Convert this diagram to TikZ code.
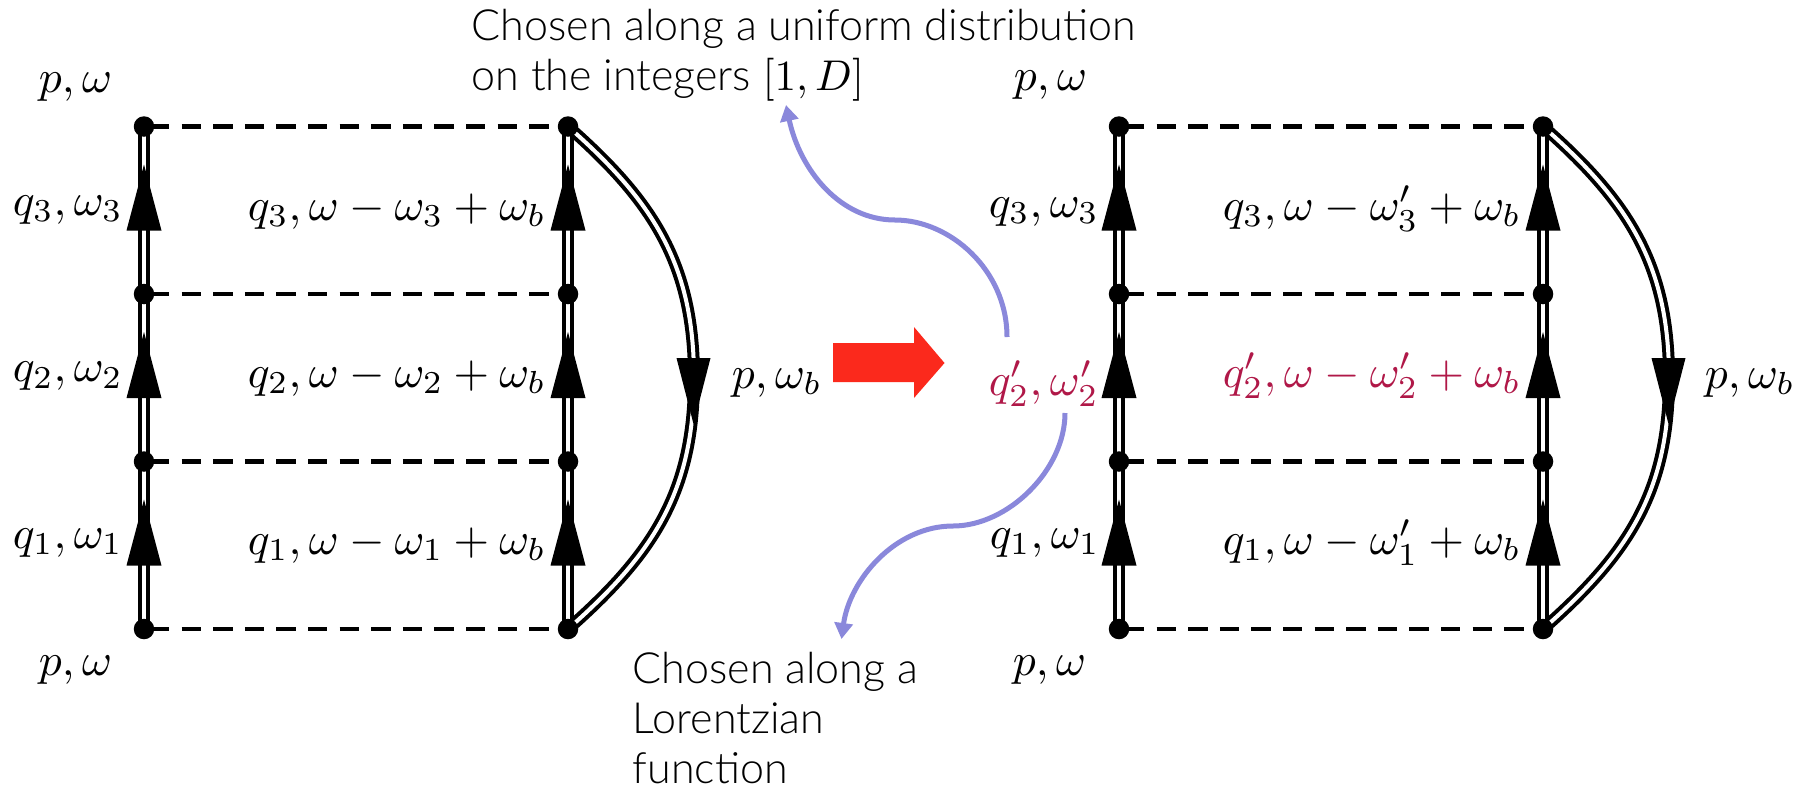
\documentclass[tikz,border=0pt]{standalone}
\usepackage[no-math]{fontspec}
\newfontfamily\lab{Lato Light}
\definecolor{crim}{HTML}{B01848}
\definecolor{purp}{HTML}{8A88DB}
\definecolor{redarr}{HTML}{FB291C}
\usetikzlibrary{arrows.meta}
\tikzset{
  vertexdot/.style={circle,fill=black,inner sep=0pt,minimum size=20.5pt},
  prop/.style={line width=4pt,double=white,double distance=4pt,draw=black},
  inter/.style={line width=4.5pt,dash pattern=on 19.3pt off 12.3pt,dash phase=25.6pt},
  mlabel/.style={scale=4.56,anchor=base west,inner sep=0pt},
  mred/.style={mlabel,text=crim},
  tlabel/.style={scale=4.3,anchor=base west,inner sep=0pt,font=\lab},
  pcurve/.style={draw=purp,line width=5pt,-{Triangle[length=16pt,width=18pt]}},
}
\newcommand\uptri[2]{\fill[black] (#1-17.5,#2) -- (#1,#2-66) -- (#1+17.5,#2) -- cycle;}
\begin{document}
\begin{tikzpicture}[x=1pt,y=-1pt]
\useasboundingbox (0,0) rectangle (1807,788);
\fill[white] (0,0) rectangle (1807,788);
\foreach \P/\dx in {L/0,R/975}{
  \begin{scope}[xshift=\dx pt]
    \foreach \n/\y in {0/629,1/461.5,2/294,3/126.5}{
      \coordinate (\P a\n) at (144,\y);
      \coordinate (\P b\n) at (568,\y);
    }
    \coordinate (\P m) at (694,378);
    \foreach \n in {0,1,2,3}{\draw[inter] (\P a\n) -- (\P b\n);}
    \draw[prop] (\P a0) -- (\P a3);
    \draw[prop] (\P b0) -- (\P b3);
    \draw[prop] (\P b3) .. controls +(84,74) and +(0,-115) .. (\P m) .. controls +(0,115) and +(84,-74) .. (\P b0);
    \foreach \y in {230.5,398,565.5}{\uptri{144}{\y}\uptri{568}{\y}}
    \fill[black] (676.5,358) -- (693.5,424) -- (710.5,358) -- cycle;
    \foreach \n in {0,1,2,3}{
      \node[vertexdot] at (\P a\n) {};
      \node[vertexdot] at (\P b\n) {};
    }
  \end{scope}
}
% left labels
\node[mlabel] (l1) at (38,92) {$p,\omega$};
\node[mlabel] (l2) at (12,215) {$q_3,\omega_3$};
\node[mlabel] (l3) at (12,381.5) {$q_2,\omega_2$};
\node[mlabel] (l4) at (12,548) {$q_1,\omega_1$};
\node[mlabel] (l5) at (38,675) {$p,\omega$};
\node[mlabel] (l6) at (247,220) {$q_3,\omega-\omega_3+\omega_b$};
\node[mlabel] (l7) at (247,387) {$q_2,\omega-\omega_2+\omega_b$};
\node[mlabel] (l8) at (247,554) {$q_1,\omega-\omega_1+\omega_b$};
\node[mlabel] (l9) at (731,388) {$p,\omega_b$};
% right labels
\node[mlabel] (r1) at (1013,90) {$p,\omega$};
\node[mlabel] (r2) at (988,217) {$q_3,\omega_3$};
\node[mred] (r3) at (988,395) {$q_2',\omega_2'$};
\node[mlabel] (r4) at (989,548) {$q_1,\omega_1$};
\node[mlabel] (r5) at (1012,675) {$p,\omega$};
\node[mlabel] (r6) at (1222,220) {$q_3,\omega-\omega_3'+\omega_b$};
\node[mred] (r7) at (1222,387) {$q_2',\omega-\omega_2'+\omega_b$};
\node[mlabel] (r8) at (1222,554) {$q_1,\omega-\omega_1'+\omega_b$};
\node[mlabel] (r9) at (1704,388) {$p,\omega_b$};
% red arrow
\fill[redarr] (833,343) -- (914,343) -- (914,327) -- (944.5,363) -- (914,398) -- (914,382) -- (833,382) -- cycle;
% notes
\node[tlabel] (t1) at (471,40) {Chosen along a uniform distribution};
\node[tlabel] (t2) at (471,90) {on the integers $[1,D]$};
\node[tlabel] (t3) at (632,683) {Chosen along a};
\node[tlabel] (t4) at (632,733) {Lorentzian};
\node[tlabel] (t5) at (632,783) {function};
% curves
\coordinate (u0) at (1007,337);
\coordinate (um) at (895,220);
\coordinate (u1) at (786,105);
\coordinate (d0) at (1065,413);
\coordinate (dm) at (953,526);
\coordinate (d1) at (841.5,639);
\draw[pcurve] (u0) .. controls +(0,-67) and +(55,0) .. (um) .. controls +(-55,0) and +(14,65) .. (u1);
\draw[pcurve] (d0) .. controls +(0,57) and +(55,0) .. (dm) .. controls +(-58,0) and +(8,-59) .. (d1);
\end{tikzpicture}
\end{document}
